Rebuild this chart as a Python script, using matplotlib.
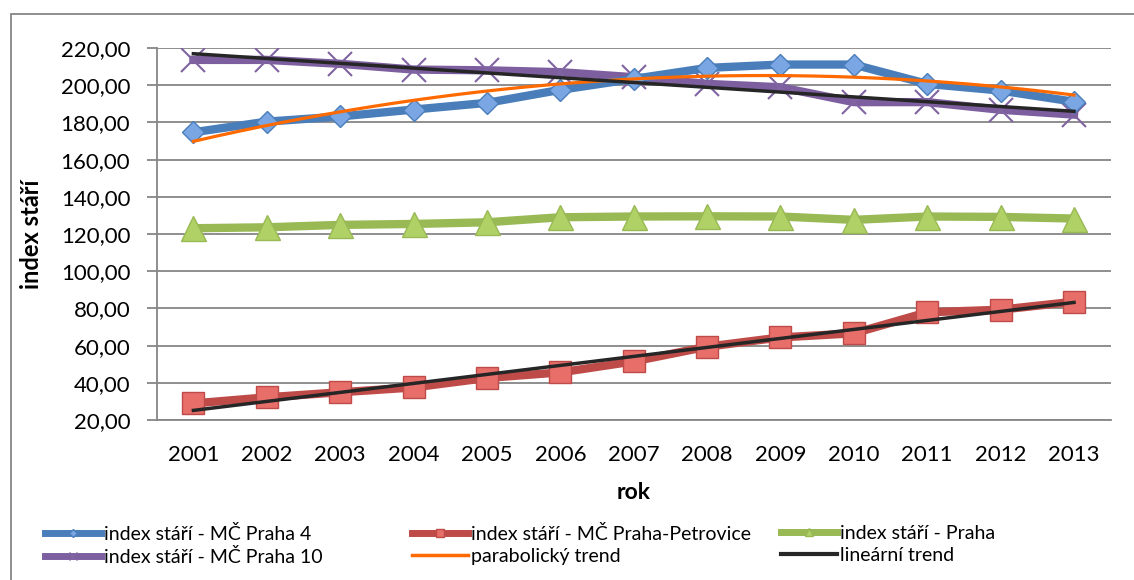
import numpy as np
import matplotlib
matplotlib.use("Agg")
import matplotlib.pyplot as plt
from matplotlib.lines import Line2D
from matplotlib.patches import Rectangle
from matplotlib.ticker import FuncFormatter

plt.rcParams['font.family'] = ['Lato', 'DejaVu Sans']

years = [2001, 2002, 2003, 2004, 2005, 2006, 2007, 2008, 2009, 2010, 2011, 2012, 2013]
praha4 = [174.7, 180.4, 183.2, 186.9, 190.5, 197.5, 203.4, 209.3, 211.1, 211.1, 200.7, 197.1, 191.1]
petrovice = [28.9, 32.2, 34.9, 37.5, 42.6, 45.6, 51.5, 59.4, 64.4, 66.6, 77.9, 79.3, 83.6]
praha = [123.1, 123.6, 124.9, 125.4, 126.3, 129.0, 129.4, 129.5, 129.4, 127.6, 129.4, 129.2, 128.3]
praha10 = [213.6, 213.6, 211.5, 208.4, 208.0, 207.0, 204.3, 200.7, 198.9, 190.9, 190.9, 186.8, 184.2]

labels = ["index stáří - MČ Praha 4", "index stáří - MČ Praha-Petrovice", "index stáří - Praha",
          "index stáří - MČ Praha 10", "parabolický trend", "lineární trend"]

W, H = 1134, 580
fig = plt.figure(figsize=(W / 100, H / 100), dpi=100)
ax = fig.add_axes([156.7 / W, 1 - 420 / H, (1110.7 - 156.7) / W, (420 - 48) / H])

x = np.arange(len(years))
GRID = '#868686'

c_blue, c_red, c_green, c_purple = '#4A7EBB', '#BE4B48', '#98B954', '#7D5FA0'
lw = 6

ax.plot(x, praha4, color=c_blue, lw=lw, marker='D', ms=11.5, mfc='#7AA7E4', mec='#4A7EBB', mew=1.0, zorder=4)
ax.plot(x, petrovice, color=c_red, lw=lw, marker='s', ms=16.5, mfc='#E86E6A', mec='#BE4B48', mew=1.0, zorder=3)
ax.plot(x, praha, color=c_green, lw=lw, marker='^', ms=18, mfc='#AFD166', mec='#98B954', mew=1.0, zorder=3)
ax.plot(x, praha10, color=c_purple, lw=lw, marker='x', ms=17, mec='#8064A2', mew=1.5, zorder=3)

# trends
xx = np.linspace(0, len(years) - 1, 200)
p2 = np.polyfit(x, praha4, 2)
ax.plot(xx, np.polyval(p2, xx), color='#FF6A00', lw=2.3, zorder=6)
p1a = np.polyfit(x, praha10, 1)
ax.plot(xx, np.polyval(p1a, xx), color='#262626', lw=2.5, zorder=6)
p1b = np.polyfit(x, petrovice, 1)
ax.plot(xx, np.polyval(p1b, xx), color='#262626', lw=2.5, zorder=6)

ax.set_xlim(-0.5, len(years) - 0.5)
ax.set_ylim(20, 220)
ax.set_yticks(np.arange(20, 221, 20))
ax.yaxis.set_major_formatter(FuncFormatter(lambda v, p: f"{v:.2f}".replace('.', ',')))
ax.set_xticks(x)
ax.set_xticklabels([str(y) for y in years])
ax.grid(axis='y', color=GRID, lw=1.3)
ax.set_axisbelow(True)
for s in ['top', 'right']:
    ax.spines[s].set_visible(False)
for s in ['left', 'bottom']:
    ax.spines[s].set_color(GRID)
    ax.spines[s].set_linewidth(1.3)
ax.tick_params(axis='y', length=7, width=1.3, color=GRID, pad=12, labelsize=16)
ax.tick_params(axis='x', length=0, pad=18, labelsize=16)

ax.set_xlabel('rok', fontsize=16.5, fontweight='bold', labelpad=12)
ax.set_ylabel('index stáří', fontsize=17, fontweight='bold', labelpad=13)

# legend (three columns, row-major like the original)
def h(color, marker, ms, mfc=None, mec=None, mew=1.0):
    return Line2D([], [], color=color, lw=5, marker=marker, ms=ms,
                  mfc=mfc if mfc else color, mec=mec if mec else color, mew=mew)

handles = [
    h(c_blue, 'D', 4, '#7AA7E4', '#4A7EBB'),
    h(c_red, 's', 6, '#E86E6A', '#BE4B48'),
    h(c_green, '^', 6, '#AFD166', '#98B954'),
    h(c_purple, 'x', 6, None, '#8064A2', 1.0),
    Line2D([], [], color='#FF6A00', lw=2.5),
    Line2D([], [], color='#262626', lw=3),
]
cols = [(45, [0, 3]), (412, [1, 4]), (781, [2, 5])]
for xp, idx in cols:
    leg = fig.legend([handles[i] for i in idx], [labels[i] for i in idx],
                     loc='upper left', bbox_to_anchor=(xp / W, 1 - 525 / H),
                     frameon=False, fontsize=14, handlelength=2.9, handletextpad=0.15,
                     labelspacing=0.25, borderpad=0, borderaxespad=0)

fig.add_artist(Rectangle((10.5 / W, -0.1), 2, (1 - 14 / H) + 0.1, transform=fig.transFigure,
                         fill=False, ec=GRID, lw=1.3, clip_on=False))

fig.savefig('out.png', dpi=100)
